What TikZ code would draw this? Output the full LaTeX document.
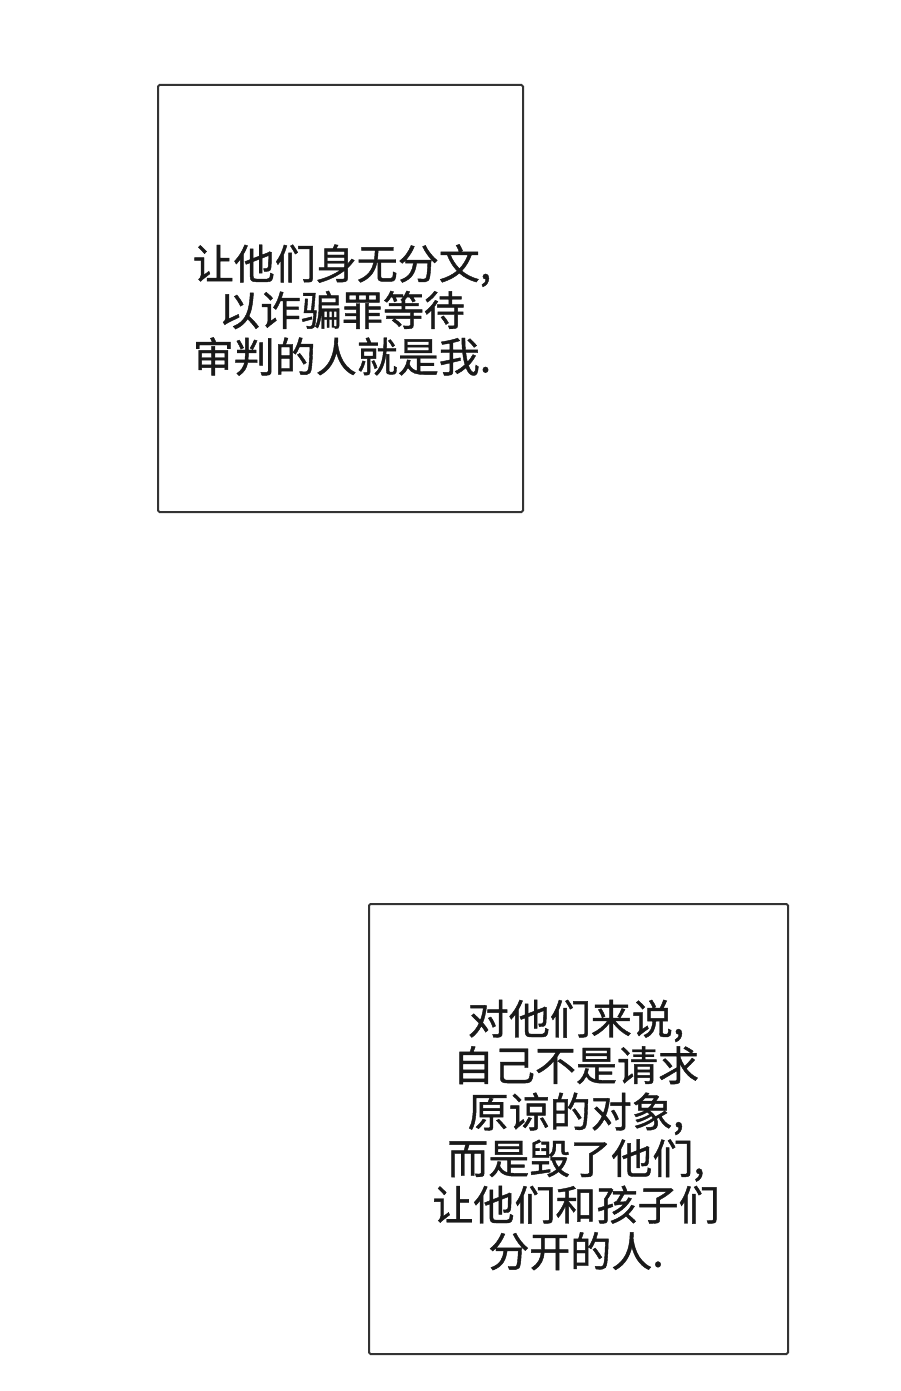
\documentclass[tikz,border=0pt]{standalone}
\usepackage{fontspec}
\newfontfamily\cjk[FakeBold=1]{Noto Sans CJK SC}
\begin{document}
\begin{tikzpicture}[x=1pt,y=-1pt,
  panel/.style={draw=black!80,line width=2pt,rounded corners=1.5pt},
  caption/.style={font=\cjk\fontsize{41}{46.5}\selectfont,align=center,inner sep=0pt,text=black!90}]
\useasboundingbox[fill=white] (0,0) rectangle (900,1391);
\draw[panel] (158,85) rectangle (523,512);
\draw[panel] (369,904) rectangle (788,1354);
\node[caption] (t1) at (342,310) {让他们身无分文,\\以诈骗罪等待\\审判的人就是我.};
\node[caption] (t2) at (576,1135) {对他们来说,\\自己不是请求\\原谅的对象,\\而是毁了他们,\\让他们和孩子们\\分开的人.};
\end{tikzpicture}
\end{document}
